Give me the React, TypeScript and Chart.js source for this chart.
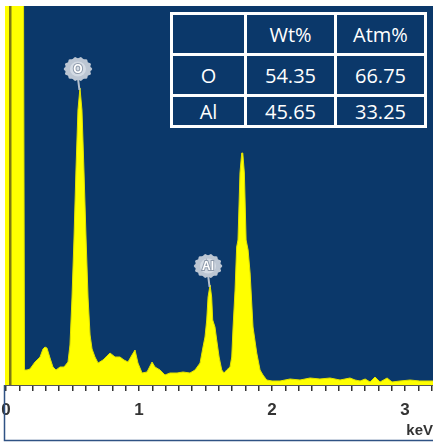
import React, { useEffect, useRef } from 'react';
import { Chart, registerables } from 'chart.js';

Chart.register(...registerables);

// Spectrum (energy in keV, counts in arbitrary units)
const energyKeV = [
  -0.01, 0.128, 0.139, 0.158, 0.18, 0.218, 0.256, 0.278, 0.293, 0.308,
  0.331, 0.353, 0.376, 0.406, 0.436, 0.466, 0.481, 0.496, 0.511, 0.526,
  0.541, 0.556, 0.571, 0.586, 0.602, 0.617, 0.632, 0.647, 0.669, 0.692,
  0.729, 0.759, 0.782, 0.82, 0.857, 0.887, 0.917, 0.947, 0.97, 0.992,
  1.023, 1.06, 1.098, 1.12, 1.158, 1.195, 1.233, 1.286, 1.331, 1.383,
  1.421, 1.459, 1.481, 1.496, 1.509, 1.519, 1.534, 1.546, 1.554, 1.571,
  1.584, 1.602, 1.622, 1.639, 1.659, 1.684, 1.697, 1.707, 1.722, 1.734,
  1.744, 1.759, 1.772, 1.78, 1.792, 1.805, 1.82, 1.835, 1.842, 1.857,
  1.885, 1.91, 1.932, 1.96, 2.0, 2.06, 2.135, 2.21, 2.286, 2.36,
  2.436, 2.511, 2.586, 2.624, 2.662, 2.7, 2.737, 2.774, 2.812, 2.865,
  2.902, 2.962, 3.038, 3.11, 3.22,
];
const counts = [
  600, 600, 15, 15, 16, 23, 28, 36, 38, 37,
  27, 18, 15, 18, 18, 23, 40, 87, 146, 215,
  275, 297, 275, 215, 146, 87, 50, 36, 28, 22,
  25, 29, 32, 28, 28, 25, 23, 30, 35, 22,
  12, 13, 23, 18, 15, 10, 12, 12, 13, 12,
  15, 22, 38, 48, 65, 88, 100, 88, 65, 58,
  45, 28, 15, 12, 15, 18, 28, 58, 95, 138,
  145, 212, 232, 232, 212, 145, 135, 112, 95, 58,
  32, 15, 10, 5, 4, 4, 6, 5, 7, 6,
  7, 5, 7, 5, 4, 6, 3, 8, 3, 7,
  3, 4, 5, 4, 4,
];

// dark marker line inside the noise peak
const markerLineKeV = [0.032, 0.032];
const markerLineCounts = [0, 600];

// peak labels
const peakNames = ['O', 'Al'];
const peakEnergies = [0.556, 1.534];
const peakCounts = [297, 100];

// axis
const xMin = -0.0075;
const xMax = 3.21;
const yMax = 379;
const axisTitle = 'keV';

// table
const tableHeader = ['', 'Wt%', 'Atm%'];
const elements = ['O', 'Al'];
const wtPct = ['54.35', '45.65'];
const atmPct = ['66.75', '33.25'];

const BLUE = '#0b386a';
const YELLOW = '#ffff00';

function badgePath(ctx: CanvasRenderingContext2D, cx: number, cy: number, rx: number, ry: number) {
  ctx.beginPath();
  const n = 64;
  for (let i = 0; i <= n; i++) {
    const t = (i / n) * Math.PI * 2;
    const bump = 1 + 0.06 * Math.cos(t * 14);
    const px = cx + Math.cos(t) * rx * bump;
    const py = cy + Math.sin(t) * ry * bump;
    if (i === 0) ctx.moveTo(px, py);
    else ctx.lineTo(px, py);
  }
  ctx.closePath();
}

const decorPlugin = {
  id: 'decor',
  beforeDraw(chart: any) {
    const { ctx, chartArea: a, width, height } = chart;
    ctx.save();
    ctx.fillStyle = '#ffffff';
    ctx.fillRect(0, 0, width, height);
    ctx.fillStyle = BLUE;
    ctx.fillRect(a.left, a.top, a.right - a.left, a.bottom - a.top);
    ctx.restore();
  },
  afterDatasetsDraw(chart: any) {
    const { ctx } = chart;
    const xs = chart.scales.x;
    const ys = chart.scales.y;
    ctx.save();
    peakNames.forEach((name, i) => {
      const px = xs.getPixelForValue(peakEnergies[i]);
      const py = ys.getPixelForValue(peakCounts[i]);
      const cx = px - 2;
      const cy = py - 19;
      ctx.strokeStyle = '#b4bfcd';
      ctx.lineWidth = 2;
      ctx.beginPath();
      ctx.moveTo(px - 0.5, py + 2);
      ctx.lineTo(cx, cy + 9);
      ctx.stroke();
      badgePath(ctx, cx, cy, 13.5, 11.5);
      ctx.fillStyle = '#bcc6d3';
      ctx.fill();
      ctx.beginPath();
      ctx.ellipse(cx, cy, 8, 7.5, 0, 0, Math.PI * 2);
      ctx.fillStyle = '#d4dbe4';
      ctx.fill();
      ctx.font = 'bold 12px "Liberation Sans", sans-serif';
      ctx.textAlign = 'center';
      ctx.textBaseline = 'middle';
      ctx.lineWidth = 2;
      ctx.strokeStyle = '#8e9aab';
      ctx.strokeText(name, cx, cy + 0.5);
      ctx.fillStyle = '#ffffff';
      ctx.fillText(name, cx, cy + 0.5);
    });
    ctx.restore();
  },
  afterDraw(chart: any) {
    const { ctx, chartArea: a, width } = chart;
    ctx.save();
    ctx.strokeStyle = '#2f5284';
    ctx.lineWidth = 1.5;
    ctx.beginPath();
    ctx.moveTo(4.5, a.bottom);
    ctx.lineTo(4.5, 440.5);
    ctx.lineTo(width, 440.5);
    ctx.stroke();
    ctx.restore();
  },
};

export default function App() {
  const canvasRef = useRef<HTMLCanvasElement | null>(null);

  useEffect(() => {
    if (!canvasRef.current) return;
    const spectrum = energyKeV.map((e, i) => ({ x: e, y: counts[i] }));
    const marker = markerLineKeV.map((e, i) => ({ x: e, y: markerLineCounts[i] }));
    const chart = new Chart(canvasRef.current, {
      type: 'line',
      data: {
        datasets: [
          {
            label: 'spectrum',
            data: spectrum,
            order: 2,
            borderColor: '#e2e200',
            borderWidth: 1,
            backgroundColor: YELLOW,
            fill: 'origin',
            pointRadius: 0,
            tension: 0,
          },
          {
            label: 'marker',
            data: marker,
            order: 1,
            borderColor: '#7d7814',
            borderWidth: 2.5,
            fill: false,
            pointRadius: 0,
          },
        ],
      },
      options: {
        responsive: false,
        animation: false,
        events: [],
        layout: { padding: { top: 6, left: 5, right: 0, bottom: 0 } },
        plugins: {
          legend: { display: false },
          tooltip: { enabled: false },
          title: { display: false },
        },
        scales: {
          x: {
            type: 'linear',
            min: xMin,
            max: xMax,
            afterFit(scale: any) {
              scale.height = 61;
              scale.paddingLeft = 0;
              scale.paddingRight = 0;
            },
            border: { display: true, color: '#555555', width: 1 },
            grid: {
              drawOnChartArea: false,
              drawTicks: true,
              tickLength: 6,
              color: '#333333',
              lineWidth: 1.5,
            },
            ticks: {
              stepSize: 0.1,
              includeBounds: false,
              autoSkip: false,
              maxRotation: 0,
              padding: 9,
              color: '#333333',
              font: { family: '"Liberation Sans", Arial, sans-serif', size: 17, weight: 'bold' },
              callback: (v: any) => {
                const n = Number(v);
                return Math.abs(n - Math.round(n)) < 1e-6 ? String(Math.round(n)) : '';
              },
            },
            title: {
              display: true,
              text: axisTitle,
              align: 'end',
              color: '#333333',
              padding: { top: 0, bottom: 6 },
              font: { family: '"Liberation Sans", Arial, sans-serif', size: 15, weight: 'bold' },
            },
          },
          y: {
            display: false,
            min: 0,
            max: yMax,
          },
        },
      },
      plugins: [decorPlugin],
    } as any);
    return () => chart.destroy();
  }, []);

  const cell: React.CSSProperties = {
    background: BLUE,
    color: '#ffffff',
    display: 'flex',
    alignItems: 'center',
    justifyContent: 'center',
    fontFamily: '"Open Sans", sans-serif',
    fontSize: 20,
  };

  const rows = [tableHeader, ...elements.map((el, i) => [el, wtPct[i], atmPct[i]])];

  return (
    <div style={{ position: 'fixed', left: 0, top: 0, width: 433, height: 446, background: '#fff', overflow: 'hidden' }}>
      <canvas ref={canvasRef} width={433} height={446} style={{ display: 'block', width: 433, height: 446 }} />
      <div
        style={{
          position: 'absolute',
          left: 170,
          top: 12,
          width: 257,
          height: 116,
          boxSizing: 'border-box',
          padding: 3,
          background: '#ffffff',
          display: 'grid',
          gridTemplateColumns: '71px 87px 87px',
          gridTemplateRows: '38px 38px 28px',
          gap: 3,
        }}
      >
        {rows.flatMap((r, ri) =>
          r.map((t, ci) => (
            <div key={`${ri}-${ci}`} style={cell}>
              {t}
            </div>
          ))
        )}
      </div>
    </div>
  );
}
